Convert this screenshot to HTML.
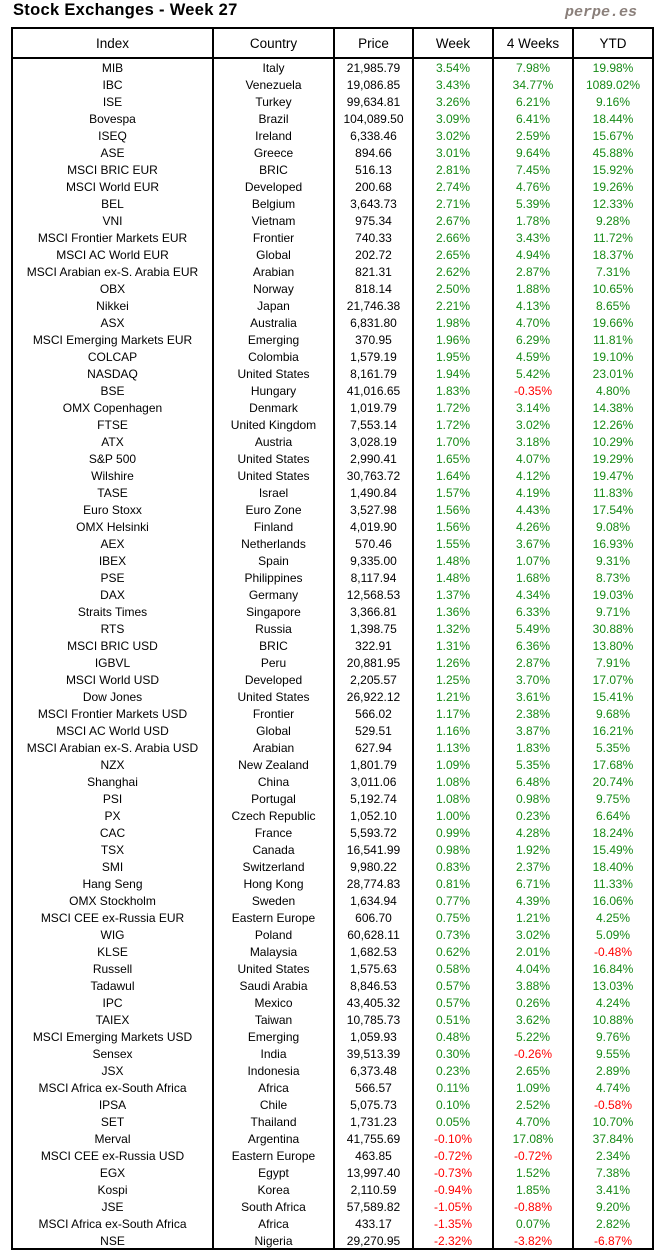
<!DOCTYPE html>
<html><head><meta charset="utf-8">
<style>
body{margin:0;width:664px;height:1260px;background:#fff;position:relative;overflow:hidden;font-family:"Liberation Sans",sans-serif;}
#title{position:absolute;left:13px;top:1px;font-size:16.5px;font-weight:bold;color:#000;font-family:"Liberation Sans",sans-serif;letter-spacing:0.3px}
#brand{position:absolute;left:565px;top:4px;font-size:15px;font-weight:bold;font-style:italic;color:#8a7f7a;font-family:"Liberation Mono",monospace;}
#tbl{position:absolute;left:11px;top:27px;width:639px;height:1219px;border:2px solid #000;}
.vl{position:absolute;top:0;bottom:0;width:2px;background:#000}
#hl{position:absolute;left:0;right:0;top:28px;height:2px;background:#000}
.h{position:absolute;top:0;height:28px;line-height:30px;text-align:center;font-size:13.5px;color:#000;font-family:"Liberation Sans",sans-serif}
.c{position:absolute;height:17px;line-height:17px;text-align:center;font-size:12px;white-space:nowrap;color:#000}
.g{color:#168a16}.r{color:#ff0000}
</style></head><body>
<div id="title">Stock Exchanges - Week 27</div>
<div id="brand">perpe.es</div>
<div id="tbl">
<div id="hl"></div>
</div>
<script>
const indices=["MIB","IBC","ISE","Bovespa","ISEQ","ASE","MSCI BRIC EUR","MSCI World EUR","BEL","VNI","MSCI Frontier Markets EUR","MSCI AC World EUR","MSCI Arabian ex-S. Arabia EUR","OBX","Nikkei","ASX","MSCI Emerging Markets EUR","COLCAP","NASDAQ","BSE","OMX Copenhagen","FTSE","ATX","S&P 500","Wilshire","TASE","Euro Stoxx","OMX Helsinki","AEX","IBEX","PSE","DAX","Straits Times","RTS","MSCI BRIC USD","IGBVL","MSCI World USD","Dow Jones","MSCI Frontier Markets USD","MSCI AC World USD","MSCI Arabian ex-S. Arabia USD","NZX","Shanghai","PSI","PX","CAC","TSX","SMI","Hang Seng","OMX Stockholm","MSCI CEE ex-Russia EUR","WIG","KLSE","Russell","Tadawul","IPC","TAIEX","MSCI Emerging Markets USD","Sensex","JSX","MSCI Africa ex-South Africa","IPSA","SET","Merval","MSCI CEE ex-Russia USD","EGX","Kospi","JSE","MSCI Africa ex-South Africa","NSE"];
const countries=["Italy","Venezuela","Turkey","Brazil","Ireland","Greece","BRIC","Developed","Belgium","Vietnam","Frontier","Global","Arabian","Norway","Japan","Australia","Emerging","Colombia","United States","Hungary","Denmark","United Kingdom","Austria","United States","United States","Israel","Euro Zone","Finland","Netherlands","Spain","Philippines","Germany","Singapore","Russia","BRIC","Peru","Developed","United States","Frontier","Global","Arabian","New Zealand","China","Portugal","Czech Republic","France","Canada","Switzerland","Hong Kong","Sweden","Eastern Europe","Poland","Malaysia","United States","Saudi Arabia","Mexico","Taiwan","Emerging","India","Indonesia","Africa","Chile","Thailand","Argentina","Eastern Europe","Egypt","Korea","South Africa","Africa","Nigeria"];
const prices=["21,985.79","19,086.85","99,634.81","104,089.50","6,338.46","894.66","516.13","200.68","3,643.73","975.34","740.33","202.72","821.31","818.14","21,746.38","6,831.80","370.95","1,579.19","8,161.79","41,016.65","1,019.79","7,553.14","3,028.19","2,990.41","30,763.72","1,490.84","3,527.98","4,019.90","570.46","9,335.00","8,117.94","12,568.53","3,366.81","1,398.75","322.91","20,881.95","2,205.57","26,922.12","566.02","529.51","627.94","1,801.79","3,011.06","5,192.74","1,052.10","5,593.72","16,541.99","9,980.22","28,774.83","1,634.94","606.70","60,628.11","1,682.53","1,575.63","8,846.53","43,405.32","10,785.73","1,059.93","39,513.39","6,373.48","566.57","5,075.73","1,731.23","41,755.69","463.85","13,997.40","2,110.59","57,589.82","433.17","29,270.95"];
const week=[3.54,3.43,3.26,3.09,3.02,3.01,2.81,2.74,2.71,2.67,2.66,2.65,2.62,2.50,2.21,1.98,1.96,1.95,1.94,1.83,1.72,1.72,1.70,1.65,1.64,1.57,1.56,1.56,1.55,1.48,1.48,1.37,1.36,1.32,1.31,1.26,1.25,1.21,1.17,1.16,1.13,1.09,1.08,1.08,1.00,0.99,0.98,0.83,0.81,0.77,0.75,0.73,0.62,0.58,0.57,0.57,0.51,0.48,0.30,0.23,0.11,0.10,0.05,-0.10,-0.72,-0.73,-0.94,-1.05,-1.35,-2.32];
const weeks4=[7.98,34.77,6.21,6.41,2.59,9.64,7.45,4.76,5.39,1.78,3.43,4.94,2.87,1.88,4.13,4.70,6.29,4.59,5.42,-0.35,3.14,3.02,3.18,4.07,4.12,4.19,4.43,4.26,3.67,1.07,1.68,4.34,6.33,5.49,6.36,2.87,3.70,3.61,2.38,3.87,1.83,5.35,6.48,0.98,0.23,4.28,1.92,2.37,6.71,4.39,1.21,3.02,2.01,4.04,3.88,0.26,3.62,5.22,-0.26,2.65,1.09,2.52,4.70,17.08,-0.72,1.52,1.85,-0.88,0.07,-3.82];
const ytd=[19.98,1089.02,9.16,18.44,15.67,45.88,15.92,19.26,12.33,9.28,11.72,18.37,7.31,10.65,8.65,19.66,11.81,19.10,23.01,4.80,14.38,12.26,10.29,19.29,19.47,11.83,17.54,9.08,16.93,9.31,8.73,19.03,9.71,30.88,13.80,7.91,17.07,15.41,9.68,16.21,5.35,17.68,20.74,9.75,6.64,18.24,15.49,18.40,11.33,16.06,4.25,5.09,-0.48,16.84,13.03,4.24,10.88,9.76,9.55,2.89,4.74,-0.58,10.70,37.84,2.34,7.38,3.41,9.20,2.82,-6.87];
const headers=["Index","Country","Price","Week","4 Weeks","YTD"];
const cols=[[0,199],[201,320],[322,399],[401,479],[481,559],[561,639]];
const vlines=[199,320,399,479,559];
const tbl=document.getElementById('tbl');
vlines.forEach(x=>{const d=document.createElement('div');d.className='vl';d.style.left=x+'px';


tbl.appendChild(d);});
headers.forEach((h,i)=>{const d=document.createElement('div');d.className='h';d.style.left=cols[i][0]+'px';d.style.width=(cols[i][1]-cols[i][0])+'px';d.textContent=h;


tbl.appendChild(d);});
function fmt(v){return v.toFixed(2)+'%';}
const rowY=i=>31+i*17;
for(let i=0;i<indices.length;i++){
  const vals=[indices[i],countries[i],prices[i],week[i],weeks4[i],ytd[i]];
  vals.forEach((v,j)=>{const d=document.createElement('div');d.className='c';
    d.style.left=cols[j][0]+'px';d.style.width=(cols[j][1]-cols[j][0])+'px';d.style.top=rowY(i)+'px';
    if(j>=3){d.textContent=fmt(v);d.classList.add(v<0?'r':'g');}else d.textContent=v;
    
    
    tbl.appendChild(d);});
}
</script>
</body></html>
